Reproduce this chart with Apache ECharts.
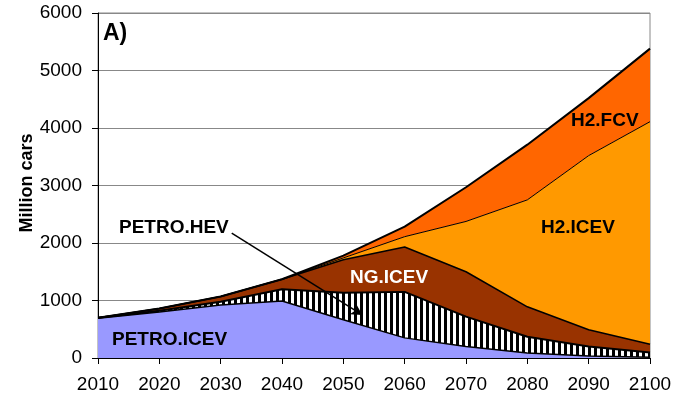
<!DOCTYPE html>
<html><head><meta charset="utf-8">
<script src="https://cdn.jsdelivr.net/npm/echarts@6/dist/echarts.min.js"></script>
<style>html,body{margin:0;padding:0;background:#fff}#c{width:686px;height:402px}</style>
</head><body><div id="c"></div>
<script>
const years = ['2010', '2020', '2030', '2040', '2050', '2060', '2070', '2080', '2090', '2100'];
const petroICEV = [690, 800, 920, 990, 665, 350, 200, 85, 35, 15];
const petroHEV  = [10, 20, 60, 205, 470, 800, 520, 285, 165, 80];
const ngICEV    = [0, 40, 90, 175, 575, 780, 780, 520, 290, 145];
const h2ICEV    = [0, 0, 0, 0, 30, 180, 875, 1860, 3030, 3870];
const h2FCV     = [0, 0, 0, 0, 40, 175, 595, 960, 1000, 1270];
const yTicks = [0, 1000, 2000, 3000, 4000, 5000, 6000];
const arrowFrom = [2031.8, 2172];
const arrowTo = [2053.1, 750];

const FONT = '"Liberation Sans", Arial, sans-serif';
const pat = document.createElement('canvas');
pat.width = 6; pat.height = 6;
const pc = pat.getContext('2d');
pc.fillStyle = '#ffffff'; pc.fillRect(0, 0, 6, 6);
pc.fillStyle = '#000000'; pc.fillRect(0, 0, 3, 6);

function area(name, data, color, lw) {
  return {
    name, type: 'line', stack: 'all', data: data, symbol: 'none',
    lineStyle: { color: '#000', width: lw }, areaStyle: { color, opacity: 1 },
    emphasis: { disabled: true }, silent: true, z: 2
  };
}
const chart = echarts.init(document.getElementById('c'), null, { renderer: 'canvas' });
chart.setOption({
  animation: false,
  textStyle: { fontFamily: FONT },
  grid: { left: 98, right: 36, top: 13, bottom: 44, show: true, borderColor: '#888', borderWidth: 1 },
  xAxis: [{
    type: 'category', data: years, boundaryGap: false,
    axisLine: { lineStyle: { color: '#000', width: 1 } },
    axisTick: { show: true, length: 6, lineStyle: { color: '#000' } },
    splitLine: { show: false },
    axisLabel: { color: '#000', fontSize: 19, fontFamily: FONT, margin: 17 }
  }, {
    type: 'value', min: 2010, max: 2100, show: false
  }],
  yAxis: {
    type: 'value', min: yTicks[0], max: yTicks[yTicks.length - 1], interval: 1000,
    axisLine: { show: true, lineStyle: { color: '#000', width: 1 } },
    axisTick: { show: true, length: 6, lineStyle: { color: '#000' } },
    splitLine: { lineStyle: { color: '#888', width: 1 } },
    axisLabel: { color: '#000', fontSize: 19, fontFamily: FONT, margin: 16, formatter: v => String(v) }
  },
  series: [
    area('PETRO.ICEV', petroICEV, '#9999FF', 1.5),
    area('PETRO.HEV', petroHEV, { image: pat, repeat: 'repeat' }, 2),
    area('NG.ICEV', ngICEV, '#993300', 1.5),
    area('H2.ICEV', h2ICEV, '#FF9900', 1),
    area('H2.FCV', h2FCV, '#FF6600', 2),
    {
      name: 'arrow', type: 'line', xAxisIndex: 1, data: [], silent: true, z: 5,
      markLine: {
        silent: true, symbol: ['none', 'arrow'], symbolSize: [9, 11], animation: false,
        lineStyle: { color: '#000', width: 1.5, type: 'solid' }, label: { show: false },
        emphasis: { disabled: true },
        data: [[{ coord: arrowFrom }, { coord: arrowTo }]]
      }
    }
  ],
  graphic: [
    { type: 'text', x: 27.5, y: 183, rotation: Math.PI / 2, z: 10, style: { text: 'Million cars', font: 'bold 18px ' + FONT, fill: '#000', align: 'center', verticalAlign: 'middle' } },
    { type: 'text', left: 103, top: 22, z: 10, style: { text: 'A)', font: 'bold 23px ' + FONT, fill: '#000' } },
    { type: 'text', x: 119, y: 228, z: 10, style: { text: 'PETRO.HEV', font: 'bold 19px ' + FONT, fill: '#000', verticalAlign: 'middle' } },
    { type: 'text', x: 350, y: 278, z: 10, style: { text: 'NG.ICEV', font: 'bold 19px ' + FONT, fill: '#fff', verticalAlign: 'middle' } },
    { type: 'text', x: 541, y: 228, z: 10, style: { text: 'H2.ICEV', font: 'bold 19px ' + FONT, fill: '#000', verticalAlign: 'middle' } },
    { type: 'text', x: 571, y: 121, z: 10, style: { text: 'H2.FCV', font: 'bold 19px ' + FONT, fill: '#000', verticalAlign: 'middle' } },
    { type: 'text', x: 112, y: 340, z: 10, style: { text: 'PETRO.ICEV', font: 'bold 19px ' + FONT, fill: '#000', verticalAlign: 'middle' } }
  ]
});
</script></body></html>
